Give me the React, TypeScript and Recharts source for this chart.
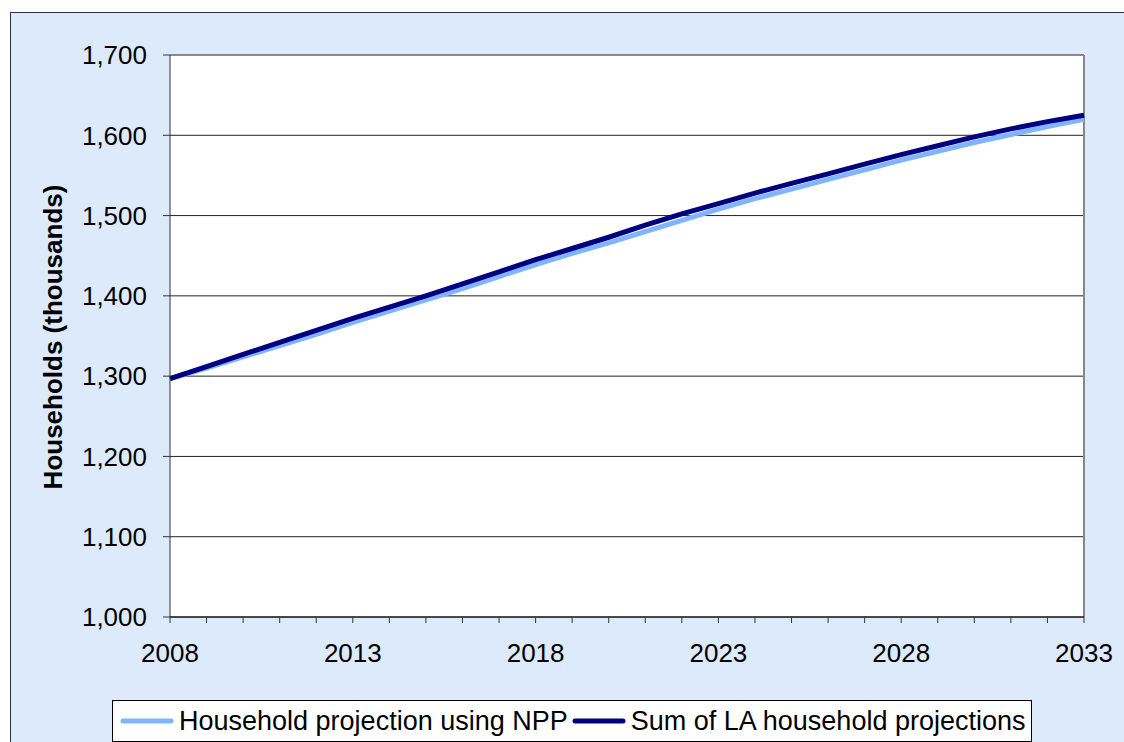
import React from 'react';
import {
  LineChart,
  Line,
  XAxis,
  YAxis,
  CartesianGrid,
  Legend,
  ReferenceLine
} from 'recharts';

const years = [
  2008, 2009, 2010, 2011, 2012, 2013, 2014, 2015, 2016, 2017, 2018, 2019, 2020,
  2021, 2022, 2023, 2024, 2025, 2026, 2027, 2028, 2029, 2030, 2031, 2032, 2033,
];

// Household projection using NPP (thousands)
const nppSeries = [
  1297, 1310, 1324, 1338, 1352, 1367, 1381, 1395, 1409, 1424, 1439, 1453, 1466,
  1480, 1494, 1508, 1521, 1533, 1545, 1557, 1569, 1580, 1591, 1601, 1611, 1620,
];

// Sum of LA household projections (thousands)
const laSeries = [
  1297, 1312, 1327, 1342, 1357, 1372, 1386, 1400, 1415, 1430, 1445, 1459, 1473,
  1488, 1502, 1515, 1528, 1540, 1552, 1564, 1576, 1587, 1598, 1608, 1617, 1625,
];

const yTicks = [1000, 1100, 1200, 1300, 1400, 1500, 1600, 1700];
const labelledYears = [2008, 2013, 2018, 2023, 2028, 2033];

const seriesNames = ['Household projection using NPP', 'Sum of LA household projections'];
const seriesColors = ['#80B4FF', '#000080'];

const data = years.map((year, i) => ({
  year,
  npp: nppSeries[i],
  la: laSeries[i],
}));

const FONT = '"Liberation Sans", Arial, sans-serif';

const LegendBox = () => (
  <div
    style={{
      width: 920,
      height: 42,
      background: '#fff',
      border: '1px solid #000',
      boxSizing: 'border-box',
      display: 'flex',
      alignItems: 'center',
      paddingLeft: 7,
      fontFamily: FONT,
      fontSize: 27,
      color: '#000',
    }}
  >
    {seriesNames.map((name, i) => (
      <div key={name} style={{ display: 'flex', alignItems: 'center', marginRight: 4 }}>
        <svg width={54} height={10} style={{ marginRight: 5 }}>
          <line x1={3} y1={5} x2={51} y2={5} stroke={seriesColors[i]} strokeWidth={5} strokeLinecap="round" />
        </svg>
        <span style={{ whiteSpace: 'nowrap' }}>{name}</span>
      </div>
    ))}
  </div>
);

const App: React.FC = () => {
  return (
    <div
      style={{
        position: 'absolute',
        left: 0,
        top: 0,
        width: 1124,
        height: 742,
        overflow: 'hidden',
        background: '#fff',
      }}
    >
      <div
        style={{
          position: 'absolute',
          left: 10,
          top: 12,
          width: 1200,
          height: 800,
          border: '1px solid #333',
          background: '#DCEAFC',
        }}
      />
      <div style={{ position: 'absolute', left: 0, top: 0 }}>
        <LineChart
          width={1124}
          height={742}
          data={data}
          margin={{ top: 55, right: 40, left: 0, bottom: 43 }}
        >
          <CartesianGrid horizontal vertical={false} stroke="#222" fill="#fff" />
          <XAxis
            dataKey="year"
            type="number"
            domain={[2008, 2033]}
            ticks={years}
            interval={0}
            tickFormatter={(v) => (labelledYears.includes(v) ? String(v) : '')}
            tick={{ fontSize: 26, fill: '#000', fontFamily: FONT }}
            tickSize={6}
            tickMargin={21}
            height={40}
            stroke="#000"
            tickLine={{ stroke: '#333' }}
          />
          <YAxis
            domain={[1000, 1700]}
            ticks={yTicks}
            interval={0}
            width={170}
            tickFormatter={(v) => v.toLocaleString('en-US')}
            tick={{ fontSize: 26, fill: '#000', fontFamily: FONT }}
            tickSize={7}
            tickMargin={16}
            stroke="#333"
            label={{
              content: () => (
                <text
                  transform="translate(62,337) rotate(-90)"
                  textAnchor="middle"
                  fontSize={26}
                  fontWeight="bold"
                  fontFamily={FONT}
                  fill="#000"
                >
                  Households (thousands)
                </text>
              ),
            }}
          />
          <ReferenceLine x={2033} stroke="#888" strokeWidth={2} />
          <ReferenceLine y={1700} stroke="#888" strokeWidth={1} />
          <Line
            type="linear"
            dataKey="npp"
            name={seriesNames[0]}
            stroke={seriesColors[0]}
            strokeWidth={5}
            dot={false}
            isAnimationActive={false}
          />
          <Line
            type="linear"
            dataKey="la"
            name={seriesNames[1]}
            stroke={seriesColors[1]}
            strokeWidth={5}
            dot={false}
            isAnimationActive={false}
          />
          <Legend
            content={() => <LegendBox />}
            wrapperStyle={{ position: 'absolute', left: 112, top: 700, width: 920, height: 42 }}
          />
        </LineChart>
      </div>
    </div>
  );
};

export default App;
